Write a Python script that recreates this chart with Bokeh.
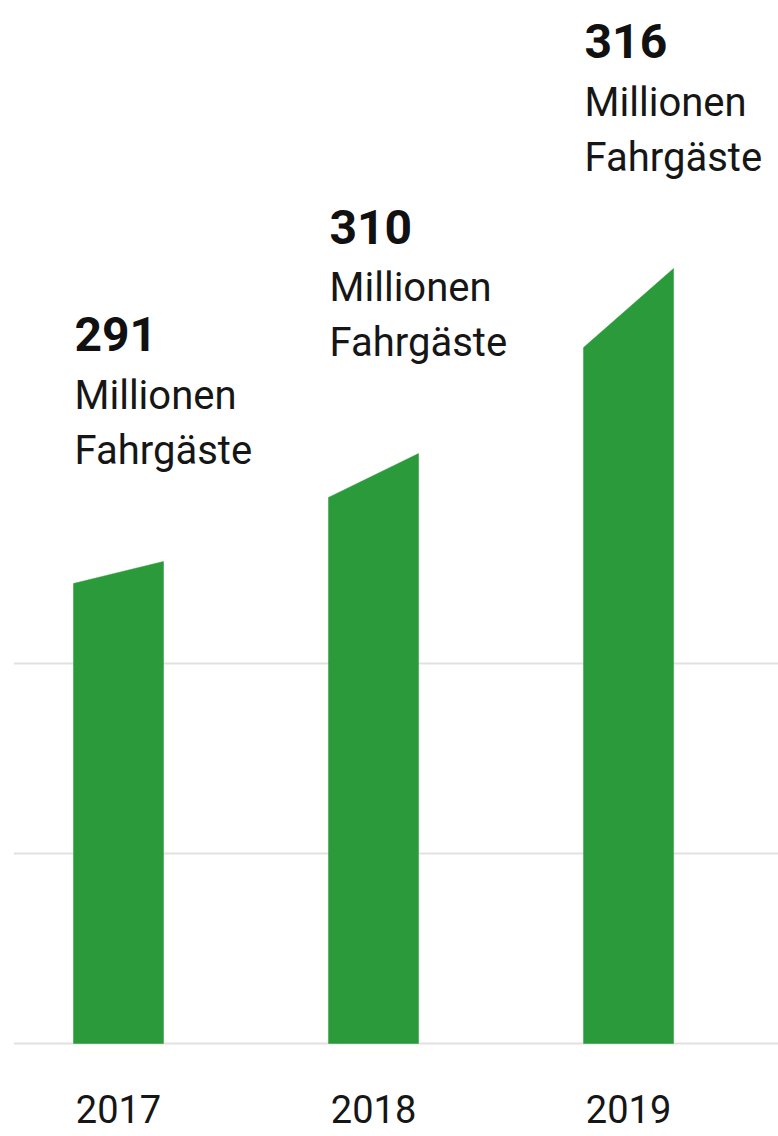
from bokeh.plotting import figure
from bokeh.models import Range1d, ColumnDataSource
from bokeh.core.properties import value
from bokeh.embed import file_html
from bokeh.resources import INLINE

# ---- data ----
years = ["2017", "2018", "2019"]
passengers = [291, 310, 316]            # Millionen Fahrgäste
unit_line1 = ["Millionen", "Millionen", "Millionen"]
unit_line2 = ["Fahrgäste", "Fahrgäste", "Fahrgäste"]
bar_top_left = [242.1, 287.4, 366.3]    # decorative bar height, left edge (chart units)
bar_top_right = [253.7, 310.5, 407.9]   # decorative bar height, right edge (chart units)
grid_levels = [0, 100, 200]

GREEN = "#2a9a3b"
FONT = "Roboto"

p = figure(width=778, height=1136, output_backend="svg", toolbar_location=None,
           x_range=Range1d(-0.4627, 2.588), y_range=Range1d(-48.95, 548.95),
           min_border=0, outline_line_color=None)
p.axis.visible = False
p.grid.visible = False
p.background_fill_color = "white"
p.border_fill_color = "white"

# gridlines
p.segment(x0=[-0.41] * len(grid_levels), x1=[2.588] * len(grid_levels),
          y0=grid_levels, y1=grid_levels, line_color="#e1e1e1", line_width=2)

# bars with slanted tops
w = 0.353
xs, ys = [], []
for i in range(len(years)):
    xs.append([i - w / 2, i - w / 2, i + w / 2, i + w / 2])
    ys.append([0, bar_top_left[i], bar_top_right[i], 0])
p.patches(xs=xs, ys=ys, fill_color=GREEN, line_color=GREEN, line_width=0.5)

idx = list(range(len(years)))
left = [i - w / 2 + 0.004 for i in idx]
src = ColumnDataSource(dict(x=left, xc=idx, y=bar_top_right,
                            num=[str(v) for v in passengers],
                            l1=unit_line1, l2=unit_line2, year=years,
                            zero=[0] * len(years)))

p.text(x="x", y="y", text="num", source=src, y_offset=-227,
       text_font=value(FONT), text_font_style="bold", text_font_size="48px",
       text_color="#111111", text_align="left", text_baseline="alphabetic")
p.text(x="x", y="y", text="l1", source=src, y_offset=-166,
       text_font=value(FONT), text_font_size="40px",
       text_color="#161616", text_align="left", text_baseline="alphabetic")
p.text(x="x", y="y", text="l2", source=src, y_offset=-111,
       text_font=value(FONT), text_font_size="40px",
       text_color="#161616", text_align="left", text_baseline="alphabetic")

# year labels
p.text(x="xc", y="zero", text="year", source=src, y_offset=66,
       text_font=value(FONT), text_font_size="38px",
       text_color="#161616", text_align="center", text_baseline="alphabetic")

open("out.html", "w").write(file_html(p, INLINE))
